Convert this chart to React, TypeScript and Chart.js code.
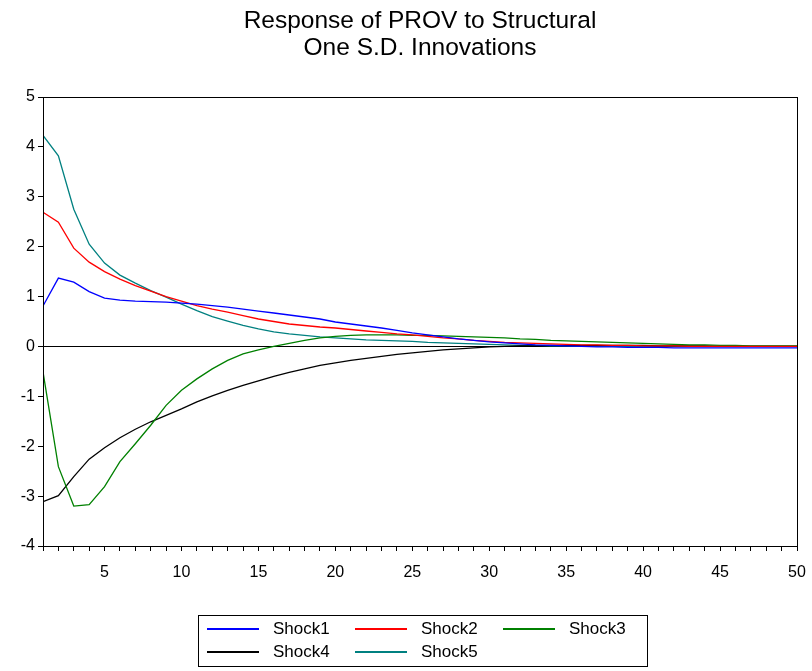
import React, { useEffect, useRef } from "react";
import { Chart, registerables } from "chart.js";
Chart.register(...registerables);

const periods = Array.from({ length: 50 }, (_, i) => i + 1);
const shock1 = [0.81,1.37,1.29,1.1,0.97,0.93,0.91,0.9,0.89,0.87,0.85,0.82,0.79,0.75,0.71,0.67,0.63,0.59,0.55,0.49,0.45,0.41,0.37,0.32,0.27,0.23,0.19,0.15,0.12,0.09,0.07,0.05,0.03,0.02,0.01,0,-0.01,-0.01,-0.02,-0.02,-0.02,-0.03,-0.03,-0.03,-0.03,-0.03,-0.03,-0.03,-0.03,-0.03];
const shock2 = [2.69,2.49,1.97,1.69,1.5,1.35,1.22,1.11,1.0,0.91,0.82,0.75,0.69,0.62,0.55,0.5,0.45,0.42,0.39,0.37,0.34,0.31,0.28,0.25,0.23,0.2,0.17,0.15,0.12,0.1,0.08,0.07,0.06,0.05,0.04,0.03,0.03,0.02,0.02,0.01,0.01,0.01,0,0,0,0,0,0,0,0];
const shock3 = [-0.51,-2.41,-3.2,-3.17,-2.81,-2.31,-1.95,-1.58,-1.18,-0.88,-0.65,-0.45,-0.28,-0.15,-0.07,0,0.06,0.12,0.17,0.2,0.22,0.23,0.23,0.23,0.22,0.22,0.21,0.2,0.19,0.18,0.17,0.15,0.14,0.12,0.11,0.1,0.09,0.08,0.07,0.06,0.05,0.04,0.03,0.03,0.02,0.02,0.01,0.01,0.01,0.01];
const shock4 = [-3.11,-2.99,-2.61,-2.26,-2.03,-1.83,-1.66,-1.51,-1.38,-1.25,-1.11,-0.99,-0.88,-0.78,-0.69,-0.6,-0.52,-0.45,-0.38,-0.33,-0.28,-0.24,-0.2,-0.16,-0.13,-0.1,-0.07,-0.05,-0.03,-0.01,0,0.01,0.01,0.02,0.02,0.02,0.02,0.02,0.02,0.02,0.01,0.01,0.01,0.01,0,0,0,0,0,0];
const shock5 = [4.23,3.82,2.75,2.05,1.67,1.43,1.27,1.12,0.99,0.85,0.72,0.6,0.51,0.42,0.35,0.29,0.25,0.22,0.19,0.17,0.15,0.13,0.12,0.11,0.1,0.08,0.07,0.06,0.05,0.04,0.03,0.02,0.02,0.01,0.01,0,0,0,0,0,0,0,0,0,0,0,0,0,0,0];
const names = ["Shock1", "Shock2", "Shock3", "Shock4", "Shock5"];
const colors = ["#0000ff", "#ff0000", "#008000", "#000000", "#008080"];
const yTicks = [-4, -3, -2, -1, 0, 1, 2, 3, 4, 5];

export default function App() {
  const ref = useRef<HTMLCanvasElement>(null);
  useEffect(() => {
    const series = [shock1, shock2, shock3, shock4, shock5];
    const frame = {
      id: "frame",
      beforeDraw(c: any) {
        const ctx = c.ctx;
        ctx.save();
        ctx.fillStyle = "#fff";
        ctx.fillRect(0, 0, c.width, c.height);
        ctx.restore();
      },
      afterDatasetsDraw(c: any) {
        const { left, right, top, bottom } = c.chartArea;
        const ctx = c.ctx;
        ctx.save();
        ctx.strokeStyle = "#000";
        ctx.lineWidth = 1;
        ctx.strokeRect(left + 0.5, top + 0.5, right - left, bottom - top);
        ctx.restore();
      },
      beforeDatasetsDraw(c: any) {
        const y0 = c.scales.y.getPixelForValue(0);
        const { left, right } = c.chartArea;
        const ctx = c.ctx;
        ctx.save();
        ctx.strokeStyle = "#000";
        ctx.lineWidth = 1;
        ctx.beginPath();
        ctx.moveTo(left, Math.round(y0) + 0.5);
        ctx.lineTo(right, Math.round(y0) + 0.5);
        ctx.stroke();
        ctx.restore();
      },
    };
    const chart = new Chart(ref.current!, {
      type: "line",
      data: {
        datasets: series.map((s, i) => ({
          label: names[i],
          data: s.map((v, j) => ({ x: periods[j], y: v })),
          borderColor: colors[i],
          borderWidth: 1.3,
          pointRadius: 0,
          tension: 0,
        })),
      },
      options: {
        animation: false,
        responsive: false,
        layout: { padding: { top: 97, right: 15, bottom: 85, left: 0 } },
        plugins: { legend: { display: false }, tooltip: { enabled: false } },
        scales: {
          x: {
            type: "linear",
            min: 1,
            max: 50,
            border: { display: false },
            grid: { drawOnChartArea: false, tickLength: 5, color: "#000" },
            afterBuildTicks: (a: any) => { a.ticks = periods.map((v) => ({ value: v })); },
            afterFit: (a: any) => { a.height = 40; a.paddingRight = 0; },
            ticks: {
              autoSkip: false,
              maxRotation: 0,
              padding: 12,
              color: "#000",
              font: { family: "Arial, 'Liberation Sans'", size: 16 },
              callback: (v: any) => (v % 5 === 0 ? String(v) : ""),
            },
          },
          y: {
            min: -4,
            max: 5,
            border: { display: false },
            grid: { drawOnChartArea: false, tickLength: 5, color: "#000" },
            afterBuildTicks: (a: any) => { a.ticks = yTicks.map((v) => ({ value: v })); },
            afterFit: (a: any) => { a.width = 43; },
            ticks: {
              color: "#000",
              font: { family: "Arial, 'Liberation Sans'", size: 16 },
            },
          },
        },
      },
      plugins: [frame],
    } as any);
    return () => chart.destroy();
  }, []);

  const font = "Arial, 'Liberation Sans', sans-serif";
  const row = (idx: number[], top: number) =>
    idx.map((i, k) => (
      <div key={i} style={{ position: "absolute", top, left: 8 + k * 148, display: "flex", alignItems: "center" }}>
        <div style={{ width: 52, height: 2, background: colors[i] }} />
        <span style={{ marginLeft: 14, fontSize: 17 }}>{names[i]}</span>
      </div>
    ));
  return (
    <div style={{ position: "absolute", left: 0, top: 0, width: 812, height: 671, fontFamily: font, color: "#000" }}>
      <canvas ref={ref} width={812} height={671} style={{ position: "absolute", left: 0, top: 0 }} />
      <div style={{ position: "absolute", top: 6, left: 0, width: 840, textAlign: "center", fontSize: 24.5, lineHeight: "27px" }}>
        Response of PROV to Structural<br />One S.D. Innovations
      </div>
      <div style={{ position: "absolute", left: 198, top: 615, width: 450, height: 52, border: "1px solid #000", boxSizing: "border-box" }}>
        {row([0, 1, 2], 3)}
        {row([3, 4], 26)}
      </div>
    </div>
  );
}
